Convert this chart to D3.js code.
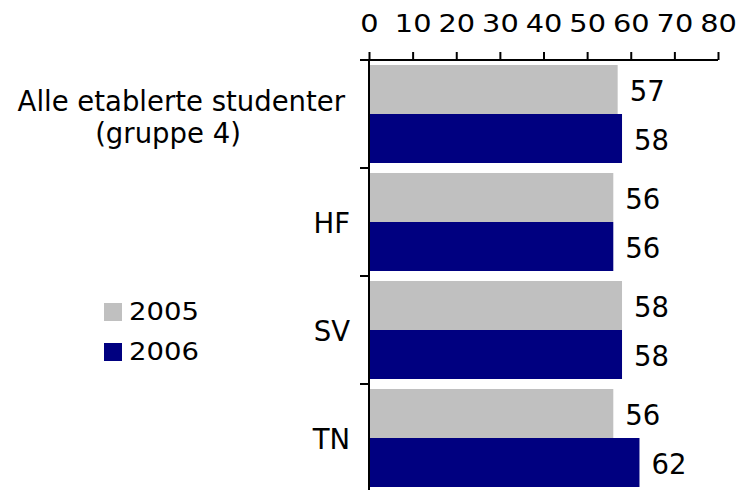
<!DOCTYPE html>
<html>
<head>
<meta charset="utf-8">
<script src="https://cdn.jsdelivr.net/npm/d3@7"></script>
<style>
  html, body { margin: 0; padding: 0; background: #fff; }
  svg { display: block; }
  text { font-family: "DejaVu Sans", Verdana, sans-serif; fill: #000; }
</style>
</head>
<body>
<svg id="chart" width="738" height="490"></svg>
<script>
const categories = ["Alle etablerte studenter\n(gruppe 4)", "HF", "SV", "TN"];
const seriesNames = ["2005", "2006"];
const values2005 = [57, 56, 58, 56];
const values2006 = [58, 56, 58, 62];
const xTicks = [0, 10, 20, 30, 40, 50, 60, 70, 80];
const colors = ["#C0C0C0", "#000080"];

const seriesValues = [values2005, values2006];
const data = categories.map((c, i) => ({
  cat: c,
  vals: seriesNames.map((s, j) => ({ series: s, value: seriesValues[j][i], color: colors[j] }))
}));

const svg = d3.select("#chart");
const plotLeft = 369, plotRight = 718, plotTop = 60, plotBottom = 492;

const x = d3.scaleLinear().domain([0, 80]).range([plotLeft, plotRight]);
const y = d3.scaleBand().domain(categories).range([plotTop, plotBottom]).padding(0);
const ySub = d3.scaleBand().domain(seriesNames).range([5, y.bandwidth() - 5]).padding(0);

// bars
const groups = svg.append("g").selectAll("g").data(data).join("g")
  .attr("transform", d => `translate(0,${y(d.cat)})`);

groups.selectAll("rect").data(d => d.vals).join("rect")
  .attr("x", x(0))
  .attr("y", d => ySub(d.series))
  .attr("width", d => x(d.value) - x(0))
  .attr("height", ySub.bandwidth())
  .attr("fill", d => d.color);

groups.selectAll("text.val").data(d => d.vals).join("text")
  .attr("class", "val")
  .attr("x", d => x(d.value) + 12)
  .attr("y", d => ySub(d.series) + ySub.bandwidth() / 2 + 11)
  .attr("font-size", "27.5px")
  .text(d => d.value);

// top axis
const xAxis = d3.axisTop(x).tickValues(xTicks).tickSize(8).tickPadding(0).tickFormat(d3.format("d"));
const gx = svg.append("g").attr("transform", `translate(0,${plotTop})`).call(xAxis);
gx.select(".domain").attr("stroke", "#000").attr("stroke-width", 2)
  .attr("d", `M${plotLeft - 9},0H${plotRight}`);
gx.selectAll(".tick line").attr("stroke", "#000").attr("stroke-width", 2);
gx.selectAll(".tick text")
  .attr("y", -27.7)
  .attr("dy", null)
  .attr("font-size", "24px")
  .attr("font-family", "DejaVu Sans, Verdana, sans-serif")
  .attr("fill", "#000")
  .attr("transform", "scale(1.2,1)");

// left axis (category boundaries)
const boundaries = categories.map(c => y(c)).concat([plotBottom]);
svg.append("line").attr("x1", plotLeft).attr("x2", plotLeft).attr("y1", plotTop).attr("y2", plotBottom)
  .attr("stroke", "#000").attr("stroke-width", 2);
svg.append("g").selectAll("line").data(boundaries).join("line")
  .attr("x1", plotLeft - 9).attr("x2", plotLeft).attr("y1", d => d).attr("y2", d => d)
  .attr("stroke", "#000").attr("stroke-width", 2);

// category labels
const catG = svg.append("g");
data.forEach((d, i) => {
  const lines = d.cat.split("\n");
  const cy = y(d.cat) + y.bandwidth() / 2;
  if (lines.length === 1) {
    catG.append("text")
      .attr("x", 350).attr("y", cy + 11)
      .attr("text-anchor", "end")
      .attr("font-size", "27.5px")
      .text(lines[0]);
  } else {
    catG.append("text")
      .attr("x", 345).attr("y", cy - 3.5)
      .attr("text-anchor", "end")
      .attr("font-size", "27.5px")
      .text(lines[0]);
    catG.append("text")
      .attr("x", 168).attr("y", cy + 29)
      .attr("text-anchor", "middle")
      .attr("font-size", "27.5px")
      .text(lines[1]);
  }
});

// legend
const legend = svg.append("g").attr("transform", "translate(104,303)");
const li = legend.selectAll("g").data(seriesNames).join("g")
  .attr("transform", (d, i) => `translate(0,${i * 40})`);
li.append("rect").attr("width", 18).attr("height", 18).attr("fill", (d, i) => colors[i]);
li.append("text")
  .attr("x", 0).attr("y", 17)
  .attr("font-size", "25px")
  .attr("transform", "translate(25,0) scale(1.1,1)")
  .text(d => d);
</script>
</body>
</html>
